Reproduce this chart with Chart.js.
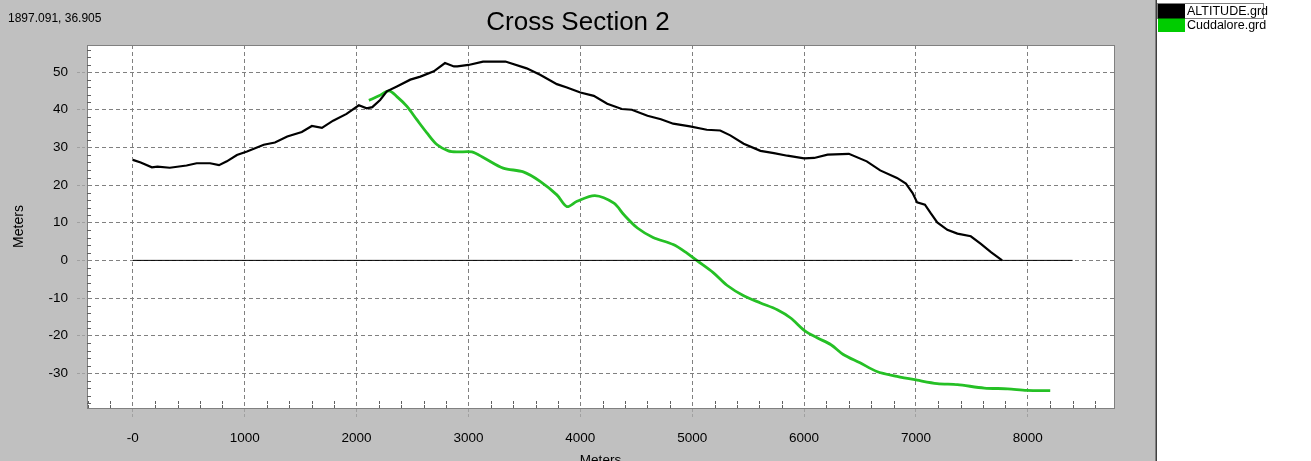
<!DOCTYPE html>
<html><head><meta charset="utf-8">
<script src="https://cdn.jsdelivr.net/npm/chart.js@4/dist/chart.umd.min.js"></script>
<style>html,body{margin:0;padding:0;background:#c0c0c0;overflow:hidden}#wrap{width:1311px;height:461px;position:relative}</style>
</head><body><div id="wrap"><canvas id="c" width="1311" height="461"></canvas></div>
<script>
const chartTitle = 'Cross Section 2';
const cursorText = '1897.091, 36.905';
const axisTitle = 'Meters';
const seriesNames = ['ALTITUDE.grd', 'Cuddalore.grd'];
const seriesLineColors = ['#000000', '#25c025'];
const legendColors = ['#000000', '#00cc00'];

const altX = [0,70,170,220,330,480,570,690,770,840,930,1020,1170,1270,1380,1510,1600,1690,1790,1910,2020,2090,2140,2210,2270,2360,2480,2570,2690,2790,2870,2900,3000,3130,3330,3520,3640,3790,3880,4000,4120,4240,4370,4460,4600,4720,4830,4980,5130,5250,5340,5460,5610,5730,5850,6000,6090,6210,6400,6560,6680,6830,6910,6970,7010,7080,7130,7190,7280,7370,7490,7580,7670,7770];
const altY = [26.7,26.0,24.7,24.9,24.6,25.2,25.8,25.8,25.3,26.3,28.0,28.9,30.7,31.3,32.9,34.1,35.7,35.2,37.1,38.9,41.2,40.4,40.7,42.6,44.9,46.2,48.0,48.8,50.2,52.4,51.5,51.5,51.9,52.8,52.8,51.0,49.3,46.8,45.9,44.6,43.7,41.6,40.2,40.0,38.4,37.5,36.3,35.6,34.7,34.5,33.2,31.0,29.1,28.5,27.8,27.1,27.2,28.1,28.3,26.3,23.9,21.9,20.4,17.9,15.4,14.8,12.6,10.1,8.1,7.1,6.4,4.4,2.2,0];

const cudX = [2110,2200,2290,2360,2450,2540,2630,2720,2820,2900,3030,3140,3310,3490,3640,3790,3880,3970,4130,4300,4390,4510,4650,4830,4950,5040,5190,5310,5460,5610,5760,5880,6010,6120,6240,6350,6500,6650,6830,7010,7190,7370,7610,7820,7990,8200];
const cudY = [42.5,43.7,45.0,43.5,40.9,37.3,33.8,30.7,29.1,28.8,28.8,27.2,24.5,23.5,21.0,17.4,14.3,15.7,17.2,15.2,12.1,8.6,6.1,4.2,2.0,0,-3.3,-6.6,-9.4,-11.3,-13.1,-15.3,-18.8,-20.6,-22.4,-25.0,-27.2,-29.5,-30.8,-31.8,-32.7,-33.0,-33.9,-34.1,-34.5,-34.6];

const zeroX = [0, 8400];
const zeroY = [0, 0];

const xTickValues = [0,1000,2000,3000,4000,5000,6000,7000,8000];
const xTickLabels = ['-0','1000','2000','3000','4000','5000','6000','7000','8000'];
const yTickValues = [-30,-20,-10,0,10,20,30,40,50];
const yTickLabels = ['-30','-20','-10','0','10','20','30','40','50'];

const FONT = '"Liberation Sans", Arial, sans-serif';
const pts = (xs, ys) => xs.map((x, i) => ({x: x, y: ys[i]}));

const frame = {
  id: 'frame',
  beforeDraw(chart) {
    const {ctx, chartArea: a, width, height} = chart;
    ctx.save();
    ctx.fillStyle = '#c0c0c0';
    ctx.fillRect(0, 0, width, height);
    ctx.fillStyle = '#ffffff';
    ctx.fillRect(a.left, a.top, a.right - a.left, a.bottom - a.top);
    ctx.fillRect(1157, 0, width - 1157, height);
    ctx.lineWidth = 1;
    ctx.strokeStyle = '#808080';
    ctx.beginPath(); ctx.moveTo(1155.5, 0); ctx.lineTo(1155.5, height); ctx.stroke();
    ctx.strokeStyle = '#404040';
    ctx.beginPath(); ctx.moveTo(1156.5, 0); ctx.lineTo(1156.5, height); ctx.stroke();
    ctx.restore();
  },
  afterDraw(chart) {
    const {ctx, chartArea: a} = chart;
    const xs = chart.scales.x, ys = chart.scales.y;
    ctx.save();
    ctx.lineWidth = 1;
    ctx.strokeStyle = '#808080';
    ctx.strokeRect(Math.round(a.left) + 0.5, Math.round(a.top) + 0.5, Math.round(a.right - a.left), Math.round(a.bottom - a.top));
    ctx.strokeStyle = '#606060';
    ctx.setLineDash([3, 1]);
    for (let v = -400; v <= 8600; v += 200) {
      if (v % 1000 === 0) continue;
      const px = Math.round(xs.getPixelForValue(v)) + 0.5;
      ctx.beginPath(); ctx.moveTo(px, a.bottom); ctx.lineTo(px, a.bottom - 7); ctx.stroke();
    }
    ctx.setLineDash([]);
    for (let v = -38; v <= 56; v += 2) {
      if (v % 10 === 0) continue;
      const py = Math.round(ys.getPixelForValue(v)) + 0.5;
      ctx.beginPath(); ctx.moveTo(a.left, py); ctx.lineTo(a.left + 4, py); ctx.stroke();
    }
    ctx.fillStyle = '#000';
    ctx.textBaseline = 'middle';
    ctx.textAlign = 'left';
    ctx.font = '12px ' + FONT;
    ctx.fillText(cursorText, 8, 19);
    ctx.textAlign = 'center';
    ctx.font = '26px ' + FONT;
    ctx.fillText(chartTitle, 578, 23);
    ctx.textAlign = 'left';
    ctx.font = '12.5px ' + FONT;
    seriesNames.forEach((name, i) => {
      const y0 = 4 + i * 14;
      ctx.fillStyle = legendColors[i];
      ctx.fillRect(1158, y0, 27, 14);
      ctx.fillStyle = '#000';
      ctx.fillText(name, 1187, y0 + 7.5);
    });
    ctx.strokeStyle = '#000';
    ctx.setLineDash([1, 1]);
    ctx.strokeRect(1157.5, 3.5, 106, 15);
    ctx.restore();
  }
};

new Chart(document.getElementById('c'), {
  type: 'scatter',
  data: {
    datasets: [
      {label: 'zero', data: pts(zeroX, zeroY), showLine: true, borderColor: '#000', borderWidth: 1, pointRadius: 0, fill: false},
      {label: seriesNames[0], data: pts(altX, altY), showLine: true, borderColor: seriesLineColors[0], borderWidth: 2.2, pointRadius: 0, fill: false, tension: 0},
      {label: seriesNames[1], data: pts(cudX, cudY), showLine: true, borderColor: seriesLineColors[1], borderWidth: 2.8, pointRadius: 0, fill: false, tension: 0.3}
    ]
  },
  options: {
    responsive: false,
    animation: false,
    devicePixelRatio: 1,
    layout: {padding: {left: 0, right: 197, top: 45, bottom: 0}},
    plugins: {legend: {display: false}, title: {display: false}, tooltip: {enabled: false}},
    scales: {
      x: {
        type: 'linear', position: 'bottom', min: -410, max: 8770,
        afterFit(s) { s.height = 53; },
        afterBuildTicks(s) { s.ticks = xTickValues.map(v => ({value: v})); },
        ticks: {
          autoSkip: false, maxRotation: 0, padding: 12, color: '#000',
          font: {family: FONT, size: 13.5},
          callback: (v) => xTickLabels[xTickValues.indexOf(v)]
        },
        grid: {color: '#808080', lineWidth: 1, tickLength: 10, tickColor: '#a0a0a0', tickBorderDash: [3, 2]},
        border: {display: true, color: '#808080', dash: [4, 3]},
        title: {display: true, text: axisTitle, color: '#000', font: {family: FONT, size: 13.5}, padding: {top: 0, bottom: -7}}
      },
      y: {
        type: 'linear', position: 'left', min: -39.2, max: 57.2,
        afterFit(s) { s.width = 87; },
        afterBuildTicks(s) { s.ticks = yTickValues.map(v => ({value: v})); },
        ticks: {
          autoSkip: false, padding: 9, color: '#000',
          font: {family: FONT, size: 13.5},
          callback: (v) => yTickLabels[yTickValues.indexOf(v)]
        },
        grid: {color: '#808080', lineWidth: 1, tickLength: 10, tickColor: '#a0a0a0', tickBorderDash: [3, 2]},
        border: {display: true, color: '#808080', dash: [4, 3]},
        title: {display: true, text: axisTitle, color: '#000', font: {family: FONT, size: 14}, padding: {top: 11, bottom: 0}}
      }
    }
  },
  plugins: [frame]
});
</script>
</body></html>
